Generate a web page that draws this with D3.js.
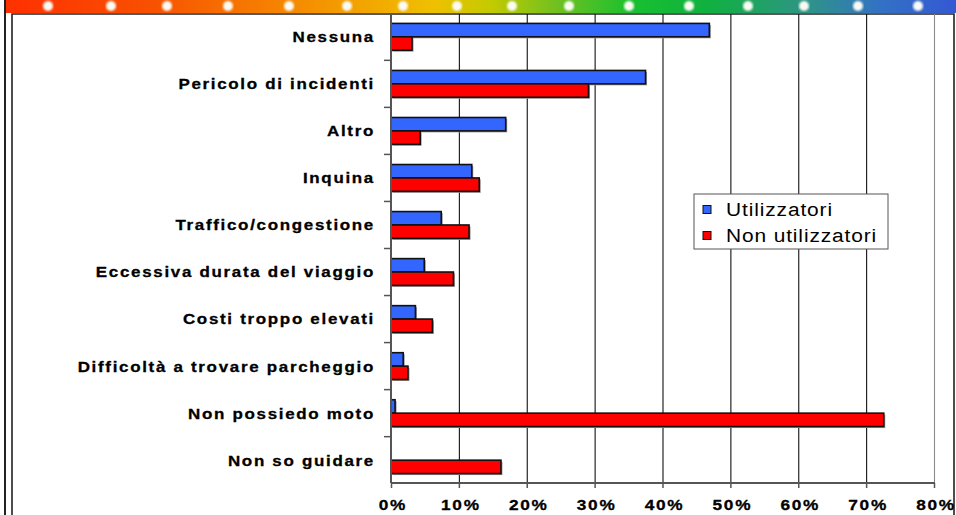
<!DOCTYPE html>
<html>
<head>
    <title>Motivi - utilizzatori</title>
    <script src="https://cdnjs.cloudflare.com/ajax/libs/d3/7.8.5/d3.min.js"></script>
    <style>
        body { margin: 0; background: #fff; }
        text { font-family: "Liberation Sans", Arial, sans-serif; }
    </style>
</head>
<body>
    <div id="vis"></div>

    <script>
        // categories top to bottom
        var categories = ["Nessuna", "Pericolo di incidenti", "Altro", "Inquina",
            "Traffico/congestione", "Eccessiva durata del viaggio", "Costi troppo elevati",
            "Difficoltà a trovare parcheggio", "Non possiedo moto", "Non so guidare"];
        var series = ["Utilizzatori", "Non utilizzatori"];
        var utilizzatori = [46.9, 37.5, 16.9, 11.9, 7.4, 4.9, 3.6, 1.8, 0.6, 0];
        var nonUtilizzatori = [3.1, 29.1, 4.3, 13.0, 11.5, 9.2, 6.1, 2.5, 72.6, 16.2];
        var xTicks = [0, 10, 20, 30, 40, 50, 60, 70, 80];
        var colors = ["#3366ff", "#ff0000"];

        var W = 956, H = 515;
        var svg = d3.select("#vis").append("svg")
            .attr("width", W)
            .attr("height", H);

        // top strip with the rainbow gradient
        var defs = svg.append("defs");
        var grad = defs.append("linearGradient").attr("id", "strip")
            .attr("x1", "0%").attr("x2", "100%");
        [[0, "#ff3000"], [0.15, "#f85000"], [0.32, "#f59000"], [0.45, "#efc000"],
         [0.51, "#c4ca00"], [0.58, "#70c020"], [0.66, "#18c030"], [0.74, "#10b040"],
         [0.84, "#2e9585"], [0.92, "#3372c4"], [1, "#3358d4"]].forEach(function(s) {
            grad.append("stop").attr("offset", s[0]).attr("stop-color", s[1]);
        });
        var blur = defs.append("filter").attr("id", "soft");
        blur.append("feGaussianBlur").attr("stdDeviation", 0.8);

        svg.append("rect")
            .attr("x", 6).attr("y", 0)
            .attr("width", W - 6).attr("height", 13)
            .style("fill", "url(#strip)");

        var dotX = [48, 111, 167, 228, 289, 347, 403, 457, 512, 569, 629, 689, 748, 804, 858, 918];
        svg.selectAll(".dot").data(dotX).enter().append("circle")
            .attr("cx", function(d) { return d; })
            .attr("cy", 6)
            .attr("r", 5)
            .attr("filter", "url(#soft)")
            .style("fill", "#fbfbf4");

        // frame lines
        svg.append("line").attr("x1", 5).attr("x2", 5).attr("y1", 0).attr("y2", H)
            .style("stroke", "#222").style("stroke-width", 2);
        svg.append("path")
            .attr("d", "M12," + H + "V14H954V" + H)
            .style("fill", "none").style("stroke", "#222").style("stroke-width", 1.6);

        // plot area (note: "top" is taken by window.top)
        var pLeft = 391, pRight = 934, pTop = 14, pBottom = 483;

        var x = d3.scaleLinear().domain([0, 80]).range([pLeft, pRight]);
        var y = d3.scaleBand().domain(categories).range([pTop, pBottom])
            .paddingInner(0.43).paddingOuter(0.2);
        var ys = d3.scaleBand().domain(series).range([0, y.bandwidth()]);

        // gridlines
        svg.selectAll(".grid").data(xTicks.slice(1)).enter().append("line")
            .attr("x1", function(d) { return x(d) + 0.5; })
            .attr("x2", function(d) { return x(d) + 0.5; })
            .attr("y1", pTop)
            .attr("y2", pBottom)
            .style("stroke", function(d) { return d == 80 ? "#8a8a8a" : "#111"; })
            .style("stroke-width", 1.1);

        // bars
        var rows = categories.map(function(c, i) {
            return { cat: c, vals: [utilizzatori[i], nonUtilizzatori[i]] };
        });
        var g = svg.selectAll(".row").data(rows).enter().append("g")
            .attr("transform", function(d) { return "translate(0," + y(d.cat) + ")"; });

        function barData(d) {
            return d.vals.map(function(v, j) { return { s: series[j], v: v, j: j }; })
                .filter(function(b) { return b.v > 0; });
        }

        // soft shadow
        g.selectAll(".sh").data(barData).enter().append("rect")
            .attr("x", x(0) + 1.5)
            .attr("y", function(d) { return ys(d.s) + 1.5; })
            .attr("width", function(d) { return x(d.v) - x(0); })
            .attr("height", ys.bandwidth())
            .style("fill", "#999");

        g.selectAll(".bar").data(barData).enter().append("rect")
            .attr("x", x(0))
            .attr("y", function(d) { return ys(d.s); })
            .attr("width", function(d) { return x(d.v) - x(0); })
            .attr("height", ys.bandwidth())
            .style("fill", function(d) { return colors[d.j]; })
            .style("stroke", "#111")
            .style("stroke-width", 1.6);

        // y axis line and ticks at band boundaries
        svg.append("line").attr("x1", pLeft).attr("x2", pLeft).attr("y1", pTop).attr("y2", pBottom)
            .style("stroke", "#555").style("stroke-width", 2);
        var bounds = categories.slice(1).map(function(c) {
            return y(c) - y.step() * y.paddingInner() / 2;
        });
        svg.selectAll(".ytick").data(bounds).enter().append("line")
            .attr("x1", pLeft - 7).attr("x2", pLeft)
            .attr("y1", function(d) { return d; }).attr("y2", function(d) { return d; })
            .style("stroke", "#555").style("stroke-width", 1.5);

        // x axis
        svg.append("line").attr("x1", pLeft).attr("x2", pRight + 1).attr("y1", pBottom).attr("y2", pBottom)
            .style("stroke", "#555").style("stroke-width", 2);
        svg.selectAll(".xtick").data(xTicks).enter().append("line")
            .attr("x1", function(d) { return x(d) + 0.5; })
            .attr("x2", function(d) { return x(d) + 0.5; })
            .attr("y1", pBottom).attr("y2", pBottom + 5)
            .style("stroke", "#555").style("stroke-width", 1.5);

        // text in the original looks horizontally stretched
        svg.selectAll(".xlab").data(xTicks).enter().append("text")
            .attr("transform", function(d) { return "translate(" + (x(d) + 2) + ",510) scale(1.15,1)"; })
            .attr("text-anchor", "middle")
            .style("font-size", "15px")
            .style("font-weight", "bold")
            .style("letter-spacing", "1.5px")
            .style("stroke", "#000").style("stroke-width", 0.3)
            .text(function(d) { return d + "%"; });

        // category labels
        svg.selectAll(".ylab").data(categories).enter().append("text")
            .attr("transform", function(d) {
                return "translate(375," + (y(d) + y.bandwidth() / 2) + ") scale(1.13,1)";
            })
            .attr("dy", "0.36em")
            .attr("text-anchor", "end")
            .style("font-size", "15px")
            .style("font-weight", "bold")
            .style("letter-spacing", "1.5px")
            .style("stroke", "#000").style("stroke-width", 0.3)
            .text(function(d) { return d; });

        // legend
        var lg = svg.append("g").attr("transform", "translate(694,194)");
        lg.append("rect").attr("width", 194).attr("height", 55)
            .style("fill", "#fff").style("stroke", "#555").style("stroke-width", 1);
        var items = lg.selectAll(".item").data(series).enter().append("g")
            .attr("transform", function(d, i) { return "translate(0," + (i * 26) + ")"; });
        items.append("rect")
            .attr("x", 9).attr("y", 11.5)
            .attr("width", 8).attr("height", 8)
            .style("fill", function(d, i) { return colors[i]; })
            .style("stroke", "#111").style("stroke-width", 1);
        items.append("text")
            .attr("transform", "translate(32,22) scale(1.1,1)")
            .style("font-size", "19px")
            .style("letter-spacing", "0.8px")
            .text(function(d) { return d; });
    </script>
</body>
</html>
